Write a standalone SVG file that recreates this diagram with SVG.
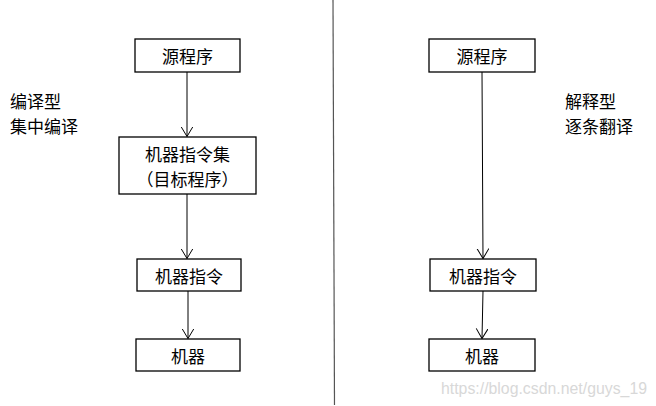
<svg xmlns="http://www.w3.org/2000/svg" width="656" height="406" viewBox="0 0 656 406">
<style>
.box{fill:#fff;stroke:#000;stroke-width:1.3}
.t{font-family:"Noto Sans CJK SC","Noto Sans",sans-serif;font-size:17px;fill:#000;text-anchor:middle;dominant-baseline:central}
.l{font-family:"Noto Sans CJK SC","Noto Sans",sans-serif;font-size:17px;fill:#000;dominant-baseline:central}
.c{stroke:#000;stroke-width:1;fill:none}
</style>
<defs>
<marker id="arr" markerWidth="14" markerHeight="14" refX="10" refY="6" orient="auto" markerUnits="userSpaceOnUse">
<path d="M0,0 L10,6 L0,12" fill="none" stroke="#000" stroke-width="1"/>
</marker>
</defs>
<rect width="656" height="406" fill="#fff"/>
<line x1="333" y1="0" x2="334.5" y2="405" stroke="#555" stroke-width="1.2"/>
<g id="connectors">
<line class="c" x1="187" y1="72" x2="187" y2="136.5" marker-end="url(#arr)"/>
<line class="c" x1="187" y1="194" x2="187" y2="258.5" marker-end="url(#arr)"/>
<line class="c" x1="188" y1="291" x2="188" y2="338.5" marker-end="url(#arr)"/>
<line class="c" x1="482" y1="72" x2="483" y2="258.5" marker-end="url(#arr)"/>
<line class="c" x1="483" y1="291" x2="482" y2="338.5" marker-end="url(#arr)"/>
</g>
<g id="L_src"><rect class="box" x="135" y="39" width="105" height="33"/><text class="t" x="187.5" y="55.5">源程序</text></g>
<g id="L_set"><rect class="box" x="119" y="137" width="137" height="57"/><text class="t" x="187.5" y="153.5">机器指令集</text><text class="t" x="187.5" y="178.5">（目标程序）</text></g>
<g id="L_ins"><rect class="box" x="137" y="259" width="104" height="32"/><text class="t" x="189" y="275">机器指令</text></g>
<g id="L_mach"><rect class="box" x="136" y="339" width="104" height="32"/><text class="t" x="188" y="355">机器</text></g>
<g id="R_src"><rect class="box" x="429" y="39" width="106" height="33"/><text class="t" x="482" y="55.5">源程序</text></g>
<g id="R_ins"><rect class="box" x="430" y="259" width="106" height="32"/><text class="t" x="483" y="275">机器指令</text></g>
<g id="R_mach"><rect class="box" x="429" y="339" width="106" height="32"/><text class="t" x="482" y="355">机器</text></g>
<g id="L_label"><text class="l" x="10" y="100">编译型</text><text class="l" x="10" y="125">集中编译</text></g>
<g id="R_label"><text class="l" x="565" y="100">解释型</text><text class="l" x="565" y="125">逐条翻译</text></g>
<text x="441" y="394" font-family="Liberation Sans, Arial, sans-serif" font-size="16" fill="#d8d8d8" textLength="206" lengthAdjust="spacingAndGlyphs">https://blog.csdn.net/guys_19</text>
</svg>
